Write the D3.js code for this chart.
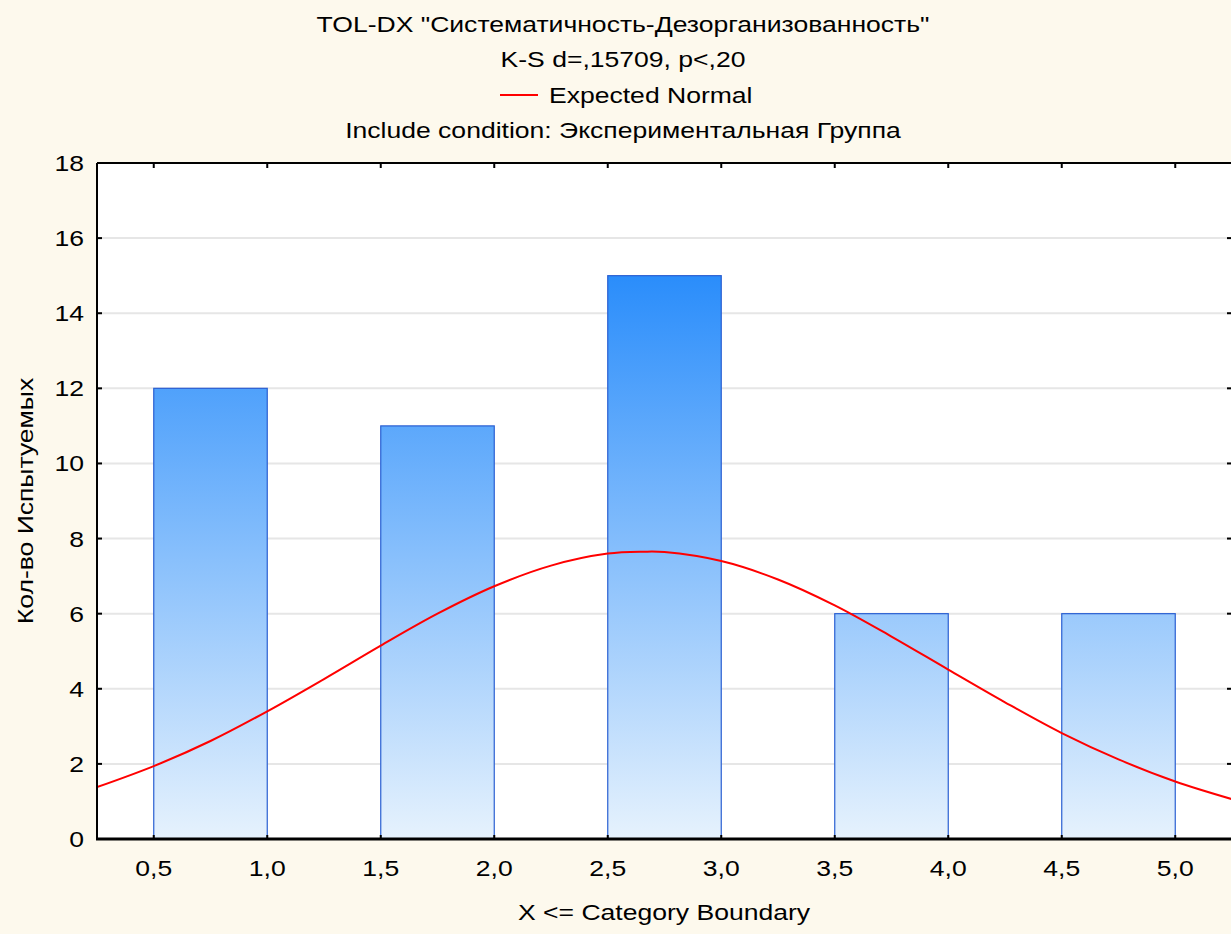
<!DOCTYPE html>
<html>
<head>
<meta charset="utf-8">
<script src="https://cdn.jsdelivr.net/npm/d3@7/dist/d3.min.js"></script>
<style>
  html, body { margin: 0; padding: 0; background: #fdf9ed; }
  svg { display: block; font-family: "Liberation Sans", Arial, sans-serif; }
</style>
</head>
<body>
<svg id="chart" width="1231" height="934"></svg>
<script>
// Histogram categories (upper boundaries of each class) and counts
const binStarts = [0.5, 1.5, 2.5, 3.5, 4.5];
const binEnds   = [1.0, 2.0, 3.0, 4.0, 5.0];
const counts    = [12, 11, 15, 6, 6];

// Expected normal curve, sampled along the x axis
const normalX = [0.25, 0.5, 0.75, 1.0, 1.25, 1.5, 1.75, 2.0, 2.25, 2.5, 2.66, 2.75, 3.0,
                 3.25, 3.5, 3.75, 4.0, 4.25, 4.5, 4.75, 5.0, 5.25];
const normalY = [1.38, 1.94, 2.61, 3.40, 4.26, 5.15, 6.00, 6.73, 7.28, 7.60, 7.65, 7.64, 7.40,
                 6.91, 6.22, 5.39, 4.51, 3.64, 2.82, 2.12, 1.53, 1.06];

const xTicks = [0.5, 1.0, 1.5, 2.0, 2.5, 3.0, 3.5, 4.0, 4.5, 5.0];
const yTicks = [0, 2, 4, 6, 8, 10, 12, 14, 16, 18];

const titleLines = [
  'TOL-DX "Систематичность-Дезорганизованность"',
  'K-S d=,15709, p<,20'
];
const legendLabel = 'Expected Normal';
const conditionLine = 'Include condition: Экспериментальная Группа';
const xTitle = 'X <= Category Boundary';
const yTitle = 'Кол-во Испытуемых';

const svg = d3.select("#chart");
const W = 1231, H = 934;
const plot = { left: 97, top: 163, right: 1232, bottom: 839 };
const FONT = 22.5, STRETCH = 1.18;

const x = d3.scaleLinear().domain([0.25, 5.25]).range([plot.left, plot.right]);
const y = d3.scaleLinear().domain([0, 18]).range([plot.bottom, plot.top]);
const fmt = d => d3.format(".1f")(d).replace(".", ",");

// Text helper: slightly wide lettering, as in the chart's typeface
function label(parent, px, py, str, anchor, rotate) {
  const t = parent.append("text")
    .attr("transform", `translate(${px},${py})` + (rotate ? ` rotate(${rotate})` : "") + ` scale(${STRETCH},1)`)
    .attr("text-anchor", anchor || "start")
    .attr("font-size", FONT)
    .attr("fill", "#000")
    .text(str);
  return t;
}

// Background
svg.append("rect").attr("width", W).attr("height", H).attr("fill", "#fdf9ed");
svg.append("rect")
  .attr("x", plot.left).attr("y", plot.top)
  .attr("width", plot.right - plot.left).attr("height", plot.bottom - plot.top)
  .attr("fill", "#ffffff");

// Gradient for the bars, anchored to the plot so taller bars reach darker blue
const defs = svg.append("defs");
const grad = defs.append("linearGradient")
  .attr("id", "barGrad")
  .attr("gradientUnits", "userSpaceOnUse")
  .attr("x1", 0).attr("x2", 0)
  .attr("y1", y(15)).attr("y2", y(0));
grad.append("stop").attr("offset", "0%").attr("stop-color", "#2a8dfb");
grad.append("stop").attr("offset", "100%").attr("stop-color", "#e6f2fd");

defs.append("clipPath").attr("id", "plotClip")
  .append("rect")
  .attr("x", plot.left).attr("y", plot.top)
  .attr("width", plot.right - plot.left).attr("height", plot.bottom - plot.top);

// Horizontal gridlines
svg.append("g")
  .selectAll("line")
  .data(yTicks.filter(d => d > 0 && d < 18))
  .join("line")
  .attr("x1", plot.left).attr("x2", plot.right)
  .attr("y1", d => y(d)).attr("y2", d => y(d))
  .attr("stroke", "#e6e6e6").attr("stroke-width", 2);

// Bars
svg.append("g")
  .selectAll("rect")
  .data(counts)
  .join("rect")
  .attr("x", (d, i) => x(binStarts[i]))
  .attr("width", (d, i) => x(binEnds[i]) - x(binStarts[i]))
  .attr("y", d => y(d))
  .attr("height", d => y(0) - y(d))
  .attr("fill", "url(#barGrad)")
  .attr("stroke", "#2a5fd2")
  .attr("stroke-width", 1.2);

// Expected normal curve
const line = d3.line()
  .x((d, i) => x(normalX[i]))
  .y(d => y(d))
  .curve(d3.curveCatmullRom.alpha(0.5));
svg.append("path")
  .datum(normalY)
  .attr("clip-path", "url(#plotClip)")
  .attr("d", line)
  .attr("fill", "none")
  .attr("stroke", "#ff0000")
  .attr("stroke-width", 2);

// Axes: tick marks drawn inward on all four sides
const axisG = svg.append("g").attr("stroke", "#000");
// left
axisG.append("line").attr("x1", plot.left).attr("x2", plot.left)
  .attr("y1", plot.top).attr("y2", plot.bottom).attr("stroke-width", 2);
axisG.selectAll(".lt").data(yTicks).join("line").attr("class", "lt")
  .attr("x1", plot.left).attr("x2", plot.left + 5)
  .attr("y1", d => y(d)).attr("y2", d => y(d)).attr("stroke-width", 2);
// right ticks
axisG.selectAll(".rt").data(yTicks).join("line").attr("class", "rt")
  .attr("x1", W - 4).attr("x2", W)
  .attr("y1", d => y(d)).attr("y2", d => y(d)).attr("stroke-width", 2);
// top
axisG.append("line").attr("x1", plot.left).attr("x2", W)
  .attr("y1", plot.top).attr("y2", plot.top).attr("stroke-width", 2);
axisG.selectAll(".tt").data(xTicks).join("line").attr("class", "tt")
  .attr("x1", d => x(d)).attr("x2", d => x(d))
  .attr("y1", plot.top).attr("y2", plot.top + 5).attr("stroke-width", 2);
// bottom
axisG.append("line").attr("x1", plot.left - 1).attr("x2", W)
  .attr("y1", plot.bottom).attr("y2", plot.bottom).attr("stroke-width", 3);
axisG.selectAll(".bt").data(xTicks).join("line").attr("class", "bt")
  .attr("x1", d => x(d)).attr("x2", d => x(d))
  .attr("y1", plot.bottom).attr("y2", plot.bottom - 4).attr("stroke-width", 2);

// Tick labels
const yLab = svg.append("g");
yTicks.forEach(d => label(yLab, 84, y(d) + 8, d, "end"));
const xLab = svg.append("g");
xTicks.forEach(d => label(xLab, x(d), 876, fmt(d), "middle"));

// Axis titles
label(svg, (plot.left + W) / 2, 920, xTitle, "middle");
label(svg, 33, (plot.top + plot.bottom) / 2, yTitle, "middle", -90);

// Title block
const cx = 623;
label(svg, cx, 32, titleLines[0], "middle");
label(svg, cx, 67, titleLines[1], "middle");
// Legend entry
svg.append("line").attr("x1", 500).attr("x2", 538).attr("y1", 95).attr("y2", 95)
  .attr("stroke", "#ff0000").attr("stroke-width", 2);
label(svg, 549, 103, legendLabel, "start");
label(svg, cx, 138, conditionLine, "middle");
</script>
</body>
</html>
